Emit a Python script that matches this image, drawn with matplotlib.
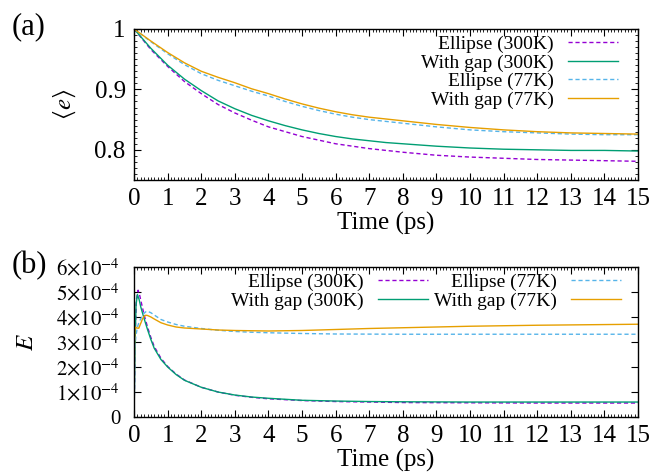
import matplotlib
matplotlib.use("Agg")
import matplotlib.pyplot as plt
from matplotlib.ticker import AutoMinorLocator, FixedLocator, FixedFormatter

plt.rcParams['font.family'] = ['Liberation Serif', 'DejaVu Serif']
plt.rcParams['mathtext.fontset'] = 'stix'

# (a) mean eccentricity vs time
t_a = [0, 0.5, 1, 1.5, 2, 2.5, 3, 3.5, 4, 4.5, 5, 5.5, 6, 6.5, 7, 7.5, 8, 9, 10, 11, 12, 13, 14, 15]
ecc_ellipse_300 = [1.0, 0.966, 0.938, 0.913, 0.893, 0.875, 0.861, 0.849, 0.838, 0.830, 0.822, 0.816,
                   0.810, 0.806, 0.802, 0.799, 0.796, 0.791, 0.788, 0.786, 0.784, 0.783, 0.782, 0.781]
ecc_gap_300 = [1.0, 0.968, 0.940, 0.917, 0.898, 0.881, 0.868, 0.857, 0.848, 0.840, 0.833, 0.827,
               0.822, 0.818, 0.815, 0.812, 0.810, 0.806, 0.803, 0.801, 0.800, 0.799, 0.799, 0.798]
ecc_ellipse_77 = [1.0, 0.979, 0.959, 0.941, 0.926, 0.915, 0.906, 0.897, 0.889, 0.880, 0.872, 0.865,
                  0.859, 0.854, 0.850, 0.847, 0.844, 0.838, 0.833, 0.830, 0.828, 0.826, 0.825, 0.825]
ecc_gap_77 = [1.0, 0.980, 0.961, 0.944, 0.930, 0.920, 0.911, 0.901, 0.893, 0.884, 0.876, 0.869,
              0.863, 0.858, 0.854, 0.851, 0.848, 0.842, 0.837, 0.833, 0.830, 0.828, 0.827, 0.826]

# (b) E vs time, in units of 1e-4
t_e300 = [0, 0.03, 0.07, 0.12, 0.17, 0.22, 0.3, 0.4, 0.5, 0.6, 0.8, 1.0, 1.25, 1.5,
          2, 2.5, 3, 3.5, 4, 5, 6, 7, 8, 10, 12, 15]
E_ellipse_300 = [0, 3.2, 4.7, 5.07, 4.85, 4.55, 4.08, 3.6, 3.18, 2.82, 2.35, 2.02, 1.72, 1.48,
                 1.19, 1.0, 0.87, 0.79, 0.73, 0.66, 0.62, 0.6, 0.58, 0.57, 0.56, 0.56]
t_g300 = [0, 0.03, 0.06, 0.1, 0.15, 0.2, 0.3, 0.4, 0.5, 0.6, 0.8, 1.0, 1.25, 1.5,
          2, 2.5, 3, 3.5, 4, 5, 6, 7, 8, 10, 12, 15]
E_gap_300 = [0, 3.0, 4.5, 4.9, 4.7, 4.4, 3.93, 3.5, 3.1, 2.75, 2.3, 2.0, 1.7, 1.47,
             1.19, 1.0, 0.88, 0.8, 0.75, 0.67, 0.64, 0.62, 0.61, 0.6, 0.6, 0.6]
t_e77 = [0, 0.02, 0.05, 0.1, 0.15, 0.22, 0.3, 0.37, 0.45, 0.5, 0.6, 0.8, 1.0, 1.25, 1.5,
         2, 2.5, 3, 3.5, 4, 5, 6, 8, 10, 12, 15]
E_ellipse_77 = [0, 2.5, 3.2, 3.6, 3.8, 3.98, 4.15, 4.23, 4.2, 4.17, 4.08, 3.9, 3.8, 3.7, 3.63,
                3.54, 3.47, 3.42, 3.39, 3.37, 3.34, 3.32, 3.31, 3.31, 3.31, 3.31]
t_g77 = [0, 0.015, 0.03, 0.08, 0.14, 0.2, 0.25, 0.3, 0.35, 0.4, 0.5, 0.6, 0.8, 1.0, 1.25, 1.5,
         2, 2.5, 3, 3.5, 4, 5, 6, 7, 8, 10, 12, 15]
E_gap_77 = [0, 3.0, 3.6, 3.56, 3.55, 3.75, 3.92, 4.03, 4.07, 4.06, 4.0, 3.92, 3.77, 3.68, 3.6, 3.56,
            3.52, 3.48, 3.46, 3.45, 3.44, 3.46, 3.5, 3.54, 3.57, 3.63, 3.67, 3.71]

x_ticks = list(range(0, 16))
b_ticks = [0, 1, 2, 3, 4, 5, 6]
b_labels = ['0'] + [r'$%d{\times}10^{-4}$' % k for k in b_ticks[1:]]

PURPLE = '#9400D3'
GREEN = '#009E73'
CYAN = '#56B4E9'
ORANGE = '#E69F00'
DASH = (0, (3, 2))

fig = plt.figure(figsize=(6.54, 4.75), dpi=100)
ax1 = fig.add_axes([0.205, 0.621, 0.7705, 0.318])
ax2 = fig.add_axes([0.205, 0.122, 0.7705, 0.316])


def style_axis(ax):
    ax.set_xlim(0, 15)
    ax.set_xticks(x_ticks)
    ax.xaxis.set_minor_locator(AutoMinorLocator(10))
    ax.tick_params(which='both', direction='in', top=True, right=True, labelsize=18, pad=6)
    ax.tick_params(which='major', length=5, width=0.8)
    ax.tick_params(which='minor', length=2.5, width=0.6)
    for s in ax.spines.values():
        s.set_linewidth(1.0)
    ax.set_xlabel('Time (ps)', fontsize=18, labelpad=1)


leg_kw = dict(loc='upper right', frameon=False, markerfirst=False, fontsize=14,
              handlelength=2.6, handletextpad=0.7, labelspacing=0.05, borderaxespad=0)

ax1.plot(t_a, ecc_ellipse_300, color=PURPLE, lw=1.0, ls=DASH, label='Ellipse (300K)')
ax1.plot(t_a, ecc_gap_300, color=GREEN, lw=1.0, label='With gap (300K)')
ax1.plot(t_a, ecc_ellipse_77, color=CYAN, lw=1.0, ls=DASH, label='Ellipse (77K)')
ax1.plot(t_a, ecc_gap_77, color=ORANGE, lw=1.0, label='With gap (77K)')
style_axis(ax1)
ax1.set_ylim(0.75, 1.0)
ax1.set_yticks([0.8, 0.9, 1.0])
ax1.set_yticklabels(['0.8', '0.9', '1'])
ax1.yaxis.set_minor_locator(AutoMinorLocator(10))
ax1.set_ylabel(r'$\langle e\rangle$', fontsize=18)
ax1.yaxis.set_label_coords(-0.112, 0.5)
ax1.legend(bbox_to_anchor=(0.976, 1.01), **leg_kw)

ax2.plot(t_e300, E_ellipse_300, color=PURPLE, lw=1.0, ls=DASH, label='Ellipse (300K)')
ax2.plot(t_g300, E_gap_300, color=GREEN, lw=1.0, label='With gap (300K)')
ax2.plot(t_e77, E_ellipse_77, color=CYAN, lw=1.0, ls=DASH, label='Ellipse (77K)')
ax2.plot(t_g77, E_gap_77, color=ORANGE, lw=1.0, label='With gap (77K)')
style_axis(ax2)
ax2.set_ylim(0, 6)
ax2.yaxis.set_major_locator(FixedLocator(b_ticks))
ax2.yaxis.set_major_formatter(FixedFormatter(b_labels))
ax2.tick_params(axis='y', which='major', labelsize=15, pad=10)
ax2.set_ylabel(r'$E$', fontsize=18)
ax2.yaxis.set_label_coords(-0.19, 0.5)
ax2.legend(bbox_to_anchor=(0.982, 1.01), ncol=2, columnspacing=0.3, **leg_kw)

fig.text(0.018, 0.944, '(a)', fontsize=22, va='center', ha='left')
fig.text(0.018, 0.44, '(b)', fontsize=22, va='center', ha='left')

fig.savefig('out.png', dpi=100)
